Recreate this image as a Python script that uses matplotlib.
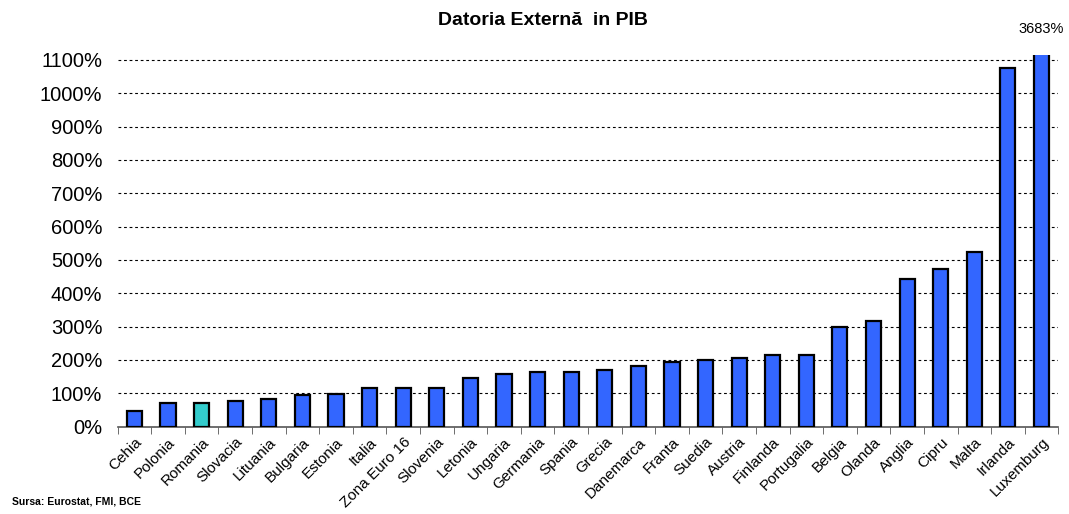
import matplotlib
matplotlib.use("Agg")
import matplotlib.pyplot as plt
import numpy as np

plt.rcParams['font.family'] = ['Liberation Sans', 'DejaVu Sans']

# Datoria externa, % din PIB
tari = ['Cehia', 'Polonia', 'Romania', 'Slovacia', 'Lituania', 'Bulgaria',
        'Estonia', 'Italia', 'Zona Euro 16', 'Slovenia', 'Letonia', 'Ungaria',
        'Germania', 'Spania', 'Grecia', 'Danemarca', 'Franta', 'Suedia',
        'Austria', 'Finlanda', 'Portugalia', 'Belgia', 'Olanda', 'Anglia',
        'Cipru', 'Malta', 'Irlanda', 'Luxemburg']
datorie = [48, 71, 70, 77, 82, 94, 99, 117, 117, 117, 147, 159, 164, 164,
           170, 181, 193, 199, 205, 216, 216, 298, 316, 442, 472, 524, 1077, 3683]
evidentiat = 'Romania'

x = np.arange(len(tari))
culori = ['#33CCCC' if t == evidentiat else '#3366FF' for t in tari]

fig = plt.figure(figsize=(10.69, 5.14), dpi=100)
ax = fig.add_axes([0.110, 0.170, 0.880, 0.723])

ax.bar(x, datorie, width=0.45, color=culori, edgecolor='black',
       linewidth=1.6, zorder=3, clip_on=True)

ax.set_xlim(-0.5, len(tari) - 0.5)
ax.set_ylim(0, 1115)
ax.set_yticks(np.arange(0, 1101, 100))
ax.set_yticklabels([f'{v}%' for v in range(0, 1101, 100)], fontsize=14.5)
ax.tick_params(axis='y', length=0, pad=11)

# grila punctata la fiecare 100%
for v in range(100, 1101, 100):
    ax.axhline(v, color='black', linestyle=(0, (2.5, 2.5)), linewidth=0.8,
               zorder=1)

# etichete si semne de diviziune intre categorii
ax.set_xticks(x)
ax.set_xticklabels(tari, rotation=45, ha='right', va='top',
                   rotation_mode='anchor', fontsize=11)
ax.tick_params(axis='x', length=0, pad=6)
ax.set_xticks(np.arange(-0.5, len(tari)), minor=True)
ax.tick_params(axis='x', which='minor', length=5, color='#555555')

for s in ['top', 'right', 'left']:
    ax.spines[s].set_visible(False)
ax.spines['bottom'].set_color('#555555')
ax.spines['bottom'].set_linewidth(1.2)

# valoarea barei taiate (Luxemburg)
ax.annotate(f'{datorie[-1]}%', xy=(x[-1], 1115), xytext=(0, 14),
            textcoords='offset points', ha='center', va='bottom',
            fontsize=10.5, annotation_clip=False)

fig.text(0.508, 0.960, 'Datoria Externă  in PIB', ha='center', va='center',
         fontsize=14, fontweight='bold')
fig.text(0.011, 0.014, 'Sursa: Eurostat, FMI, BCE', ha='left', va='bottom',
         fontsize=7.5, fontweight='bold')

fig.savefig('out.png', dpi=100)
